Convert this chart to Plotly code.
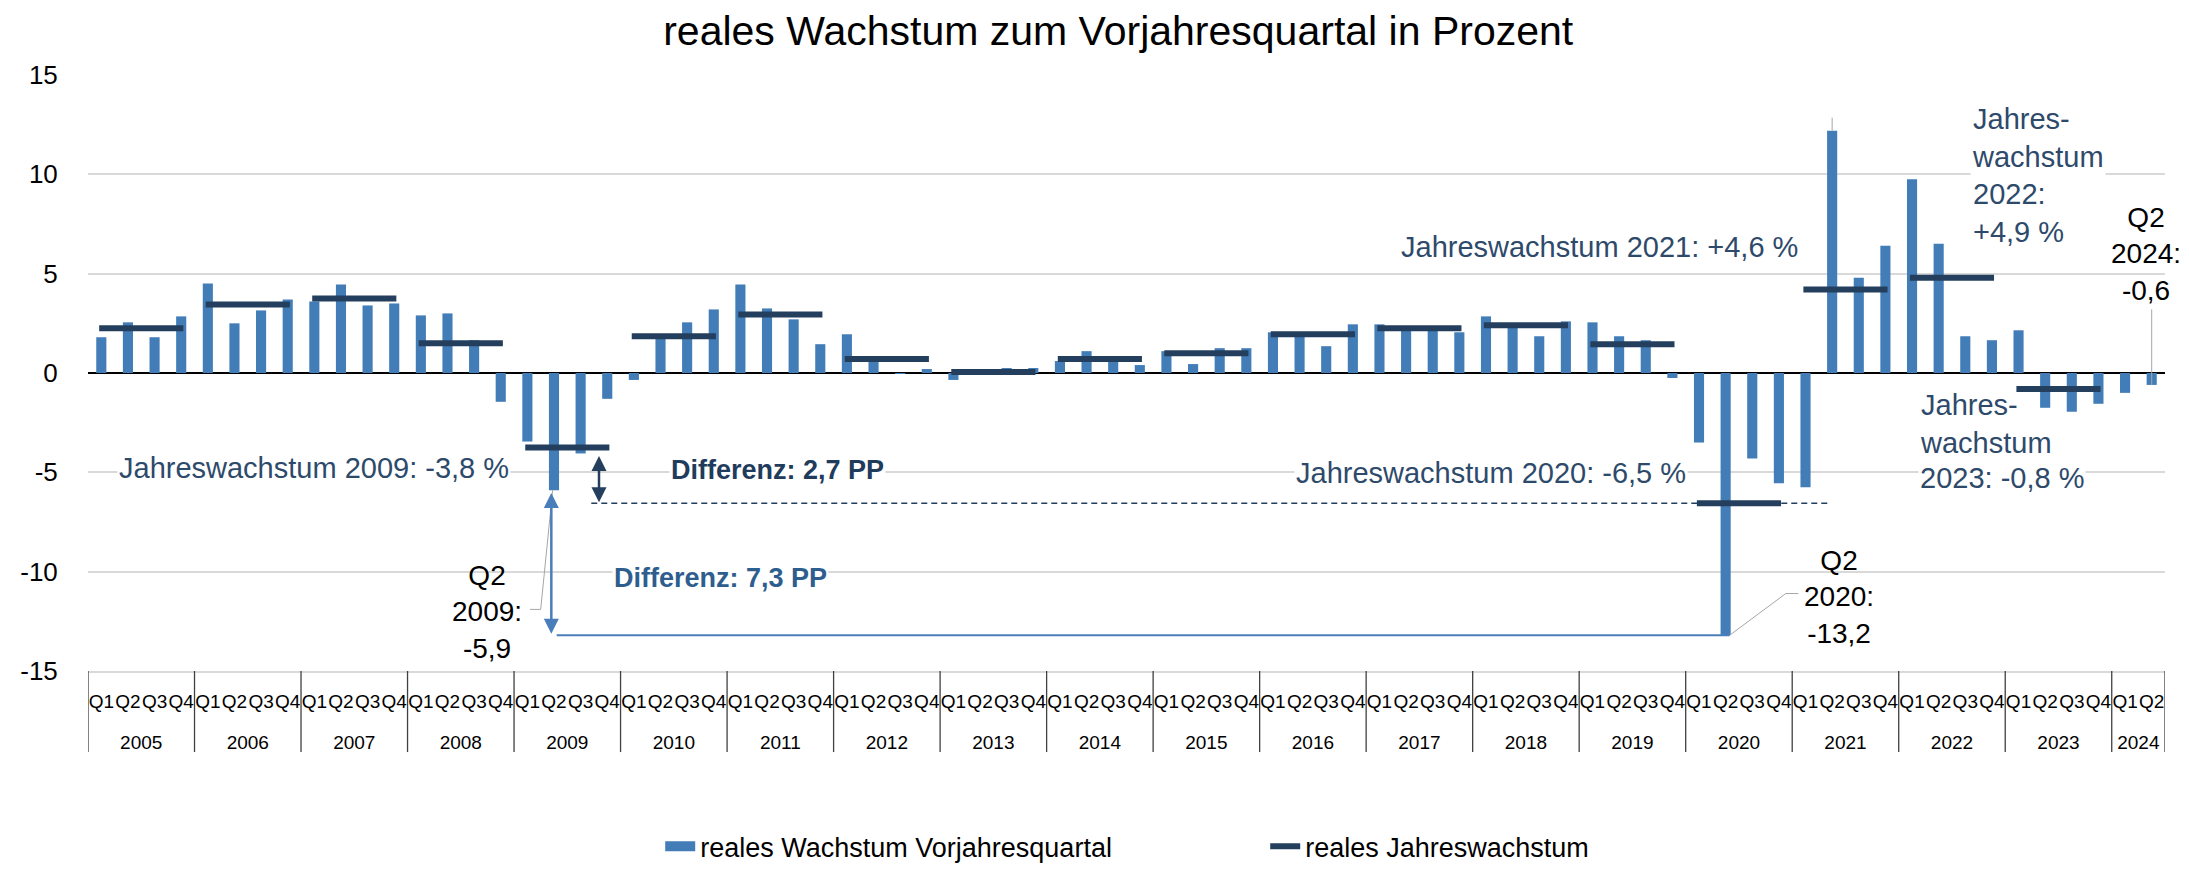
import plotly.graph_objects as go

# ---------------- data ----------------
years = [2005, 2006, 2007, 2008, 2009, 2010, 2011, 2012, 2013, 2014,
         2015, 2016, 2017, 2018, 2019, 2020, 2021, 2022, 2023, 2024]
quarters = ["Q1", "Q2", "Q3", "Q4"]
quarters_per_year = [4] * 19 + [2]

quarterly_growth = [
    1.8, 2.55, 1.8, 2.85,      # 2005
    4.5, 2.5, 3.15, 3.7,       # 2006
    3.6, 4.45, 3.4, 3.5,       # 2007
    2.9, 3.0, 1.65, -1.45,     # 2008
    -3.45, -5.9, -4.05, -1.3,  # 2009
    -0.35, 1.75, 2.55, 3.2,    # 2010
    4.45, 3.25, 2.7, 1.45,     # 2011
    1.95, 0.6, -0.05, 0.2,     # 2012
    -0.35, 0.05, 0.25, 0.25,   # 2013
    0.6, 1.1, 0.6, 0.4,        # 2014
    1.1, 0.45, 1.25, 1.25,     # 2015
    2.05, 1.9, 1.35, 2.45,     # 2016
    2.45, 2.3, 2.25, 2.05,     # 2017
    2.85, 2.4, 1.85, 2.6,      # 2018
    2.55, 1.85, 1.65, -0.25,   # 2019
    -3.5, -13.2, -4.3, -5.55,  # 2020
    -5.75, 12.2, 4.8, 6.4,     # 2021
    9.75, 6.5, 1.85, 1.65,     # 2022
    2.15, -1.75, -1.95, -1.55, # 2023
    -1.0, -0.6,                # 2024
]

annual_years = [2005, 2006, 2007, 2008, 2009, 2010, 2011, 2012, 2013, 2014,
                2015, 2016, 2017, 2018, 2019, 2020, 2021, 2022, 2023]
annual_growth = [2.25, 3.45, 3.75, 1.5, -3.75, 1.85, 2.95, 0.7, 0.05, 0.7,
                 1.0, 1.95, 2.25, 2.4, 1.45, -6.55, 4.2, 4.8, -0.8]

y_ticks = [15, 10, 5, 0, -5, -10, -15]
y_tick_labels = ["15", "10", "5", "0", "-5", "-10", "-15"]

title_text = "reales Wachstum zum Vorjahresquartal in Prozent"
name_bars = "reales Wachstum Vorjahresquartal"
name_line = "reales Jahreswachstum"

# ---------------- styles ----------------
FONT = "Liberation Sans, Arial, sans-serif"
BAR_COLOR = "#427DB8"
LINE_COLOR = "#243F5E"
TEXT_BLUE = "#2E4A6B"
DIFF_DARK = "#1F3C5C"
DIFF_BLUE = "#2E5E8E"
ARROW_BLUE = "#4A7EBB"
GRID = "#D9D9D9"
LEADER = "#A6A6A6"

# ---------------- derived positions ----------------
keys = []
q_labels = []
for yr, n in zip(years, quarters_per_year):
    for q in range(1, n + 1):
        keys.append((yr, q))
        q_labels.append(quarters[q - 1])
x_idx = list(range(len(keys)))


def idx(year, q):
    return keys.index((year, q))


def val(year, q):
    return quarterly_growth[idx(year, q)]


year_centers = []
for yr, n in zip(years, quarters_per_year):
    year_centers.append(idx(yr, 1) + (n - 1) / 2)
boundaries = [idx(yr, 1) - 0.5 for yr in years] + [len(keys) - 0.5]

ann_of = dict(zip(annual_years, annual_growth))

line_x, line_y = [], []
for yr, v in zip(annual_years, annual_growth):
    line_x += [idx(yr, 1) - 0.08, idx(yr, 4) + 0.08, None]
    line_y += [v, v, None]

fig = go.Figure()

fig.add_trace(go.Bar(
    x=x_idx, y=quarterly_growth, name=name_bars, marker_color=BAR_COLOR,
    marker_line_width=0, showlegend=False, hoverinfo="y",
))
# legend swatch for the bars
fig.add_trace(go.Scatter(
    x=[None], y=[None], mode="lines", name=name_bars,
    line=dict(color=BAR_COLOR, width=20),
))
fig.add_trace(go.Scatter(
    x=line_x, y=line_y, mode="lines", name=name_line,
    line=dict(color=LINE_COLOR, width=6), hoverinfo="skip",
))
# helper trace carrying the year axis
fig.add_trace(go.Scatter(
    x=year_centers, y=[None] * len(year_centers), xaxis="x2", mode="markers",
    showlegend=False, hoverinfo="skip",
))

# ---------------- shapes ----------------
shapes = []
for b in boundaries:
    shapes.append(dict(type="line", xref="x", yref="paper", x0=b, x1=b,
                       y0=0, y1=-0.136, line=dict(color="#404040", width=1.3)))
# dashed line at 2020 annual level
shapes.append(dict(type="line", xref="x", yref="y",
                   x0=idx(2009, 4) - 0.6, x1=idx(2021, 2) - 0.1,
                   y0=ann_of[2020], y1=ann_of[2020],
                   line=dict(color=LINE_COLOR, width=1.5, dash="6px,4px")))
# solid blue line at Q2 2020 level
shapes.append(dict(type="line", xref="x", yref="y",
                   x0=idx(2009, 2) + 0.1, x1=idx(2020, 2) + 0.15,
                   y0=val(2020, 2), y1=val(2020, 2),
                   line=dict(color=ARROW_BLUE, width=2)))
# leader lines
shapes.append(dict(type="path", xref="x", yref="y",
                   path=f"M {idx(2009,2)-0.9},-11.9 L {idx(2009,2)-0.5},-11.9 L {idx(2009,2)-0.05},{val(2009,2)}",
                   line=dict(color=LEADER, width=1)))
shapes.append(dict(type="path", xref="x", yref="y",
                   path=f"M {idx(2020,2)+2.73},-11.1 L {idx(2020,2)+2.26},-11.1 L {idx(2020,2)+0.15},{val(2020,2)}",
                   line=dict(color=LEADER, width=1)))
shapes.append(dict(type="line", xref="x", yref="y",
                   x0=idx(2021, 2), x1=idx(2021, 2), y0=12.85, y1=val(2021, 2),
                   line=dict(color=LEADER, width=1)))
shapes.append(dict(type="line", xref="x", yref="y",
                   x0=idx(2024, 2), x1=idx(2024, 2), y0=3.2, y1=val(2024, 2),
                   line=dict(color=LEADER, width=1)))

# ---------------- annotations ----------------
anns = []


def txt(x, y, text, color, size=28, bold=False, xanchor="center", bg=True, align="center"):
    anns.append(dict(
        x=x, y=y, xref="x", yref="y", text=f"<b>{text}</b>" if bold else text,
        showarrow=False, xanchor=xanchor, yanchor="middle", align=align,
        font=dict(family=FONT, size=size, color=color),
        bgcolor="white" if bg else "rgba(0,0,0,0)", borderpad=1,
    ))


txt(8.0, -4.78, "Jahreswachstum 2009: -3,8 %", TEXT_BLUE, size=29)
txt(25.4, -4.89, "Differenz: 2,7 PP", DIFF_DARK, size=27, bold=True)
txt(23.26, -10.3, "Differenz: 7,3 PP", DIFF_BLUE, size=27, bold=True)
txt(52.2, -5.02, "Jahreswachstum 2020: -6,5 %", TEXT_BLUE, size=29)
txt(56.25, 6.36, "Jahreswachstum 2021: +4,6 %", TEXT_BLUE, size=29)
txt(70.19, 9.94, "Jahres-<br>wachstum<br>2022:<br>+4,9 %", TEXT_BLUE, size=29, xanchor="left", align="left")
txt(68.24, -2.57, "Jahres-<br>wachstum", TEXT_BLUE, size=29, xanchor="left", align="left", bg=False)
txt(68.24, -5.27, "2023: -0,8 %", TEXT_BLUE, size=29, xanchor="left", align="left")
txt(14.5, -12.03, "Q2<br>2009:<br>-5,9", "#000000", bg=False)
txt(65.26, -11.25, "Q2<br>2020:<br>-13,2", "#000000", bg=False)
txt(65.0, 15.58, "Q2<br>2021:<br>12,2", "#000000", bg=False)
txt(76.8, 5.98, "Q2<br>2024:<br>-0,6", "#000000", bg=False)

# double arrows
xa = idx(2009, 4) - 0.31
anns.append(dict(x=xa, y=ann_of[2020] + 0.05, ax=xa, ay=ann_of[2009] - 0.35,
                 xref="x", yref="y", axref="x", ayref="y", text="",
                 showarrow=True, arrowhead=2, startarrowhead=2, arrowside="end+start",
                 arrowsize=1.2, startarrowsize=1.2, arrowwidth=2.5,
                 arrowcolor=LINE_COLOR, standoff=0, startstandoff=0))
xb = idx(2009, 2) - 0.1
anns.append(dict(x=xb, y=val(2020, 2) + 0.07, ax=xb, ay=val(2009, 2) - 0.06,
                 xref="x", yref="y", axref="x", ayref="y", text="",
                 showarrow=True, arrowhead=2, startarrowhead=2, arrowside="end+start",
                 arrowsize=1.2, startarrowsize=1.2, arrowwidth=2.5,
                 arrowcolor=ARROW_BLUE, standoff=0, startstandoff=0))

fig.update_layout(
    width=2189, height=875,
    margin=dict(l=78, r=32, t=67, b=197),
    paper_bgcolor="white", plot_bgcolor="white",
    font=dict(family=FONT, color="#000000"),
    title=dict(text=title_text, x=0.496, xref="paper", xanchor="center",
               y=0.99, yref="container", yanchor="top", pad=dict(t=0),
               font=dict(family=FONT, size=41, color="#000000")),
    bargap=0.62,
    shapes=shapes, annotations=anns,
    showlegend=True,
    legend=dict(orientation="h", x=0.2755, xanchor="left", y=-0.295, yanchor="middle",
                font=dict(family=FONT, size=27, color="#000000"),
                entrywidth=560, bgcolor="rgba(0,0,0,0)"),
    xaxis=dict(range=[-0.5, len(keys) - 0.5], tickmode="array", tickvals=x_idx,
               ticktext=q_labels, tickfont=dict(size=19, color="#000000"),
               tickangle=0,
               ticks="outside", ticklen=12, tickcolor="rgba(0,0,0,0)",
               showgrid=False, zeroline=False, showline=True,
               linecolor=GRID, linewidth=1.5, fixedrange=True),
    xaxis2=dict(range=[-0.5, len(keys) - 0.5], overlaying="x", side="bottom",
                anchor="y", tickmode="array", tickvals=year_centers, tickangle=0,
                ticktext=[str(y) for y in years], tickfont=dict(size=19, color="#000000"),
                ticks="outside", ticklen=54, tickcolor="rgba(0,0,0,0)",
                showgrid=False, zeroline=False, showline=False),
    yaxis=dict(range=[-15, 15], tickmode="array", tickvals=y_ticks, ticktext=y_tick_labels,
               tickfont=dict(size=26, color="#000000"),
               ticks="outside", ticklen=24, tickcolor="rgba(0,0,0,0)",
               showgrid=True, gridcolor=GRID, gridwidth=1.5,
               zeroline=True, zerolinecolor="#000000", zerolinewidth=1.5,
               showline=False),
)

fig.write_html("out.html")
